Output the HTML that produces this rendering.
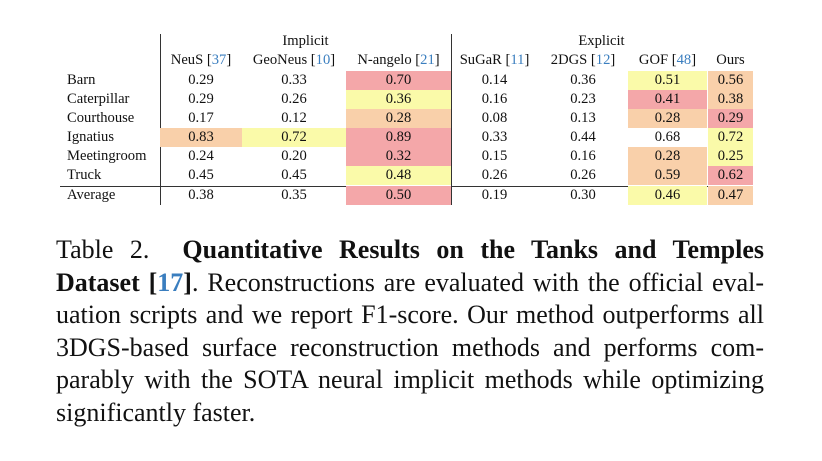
<!DOCTYPE html>
<html><head><meta charset="utf-8"><style>
body{margin:0;width:822px;height:461px;background:#fff;position:relative;overflow:hidden;font-family:"Liberation Serif",serif;color:#111}
.t{position:absolute;font-size:14.6px;line-height:19px;white-space:nowrap}
.c{position:absolute;height:19px;font-size:14.6px;line-height:19px;text-align:center}
.r{background:#f4a7a9}.o{background:#f9d0aa}.y{background:#fafaa9}
.ref{color:#3a7ebf}
.cap{position:absolute;left:56px;width:708px;font-size:26px;line-height:32.6px}
.ln{display:block;text-align:justify;text-align-last:justify;white-space:nowrap}
.ln.last{text-align-last:left}
</style></head><body>
<div>
<div style="position:absolute;left:160px;top:34px;width:1px;height:171px;background:#333"></div>
<div style="position:absolute;left:451px;top:34px;width:1px;height:171px;background:#333"></div>
<div style="position:absolute;left:60px;top:186px;width:692px;height:1px;background:#333"></div>
<div class="t" style="left:160px;width:291px;text-align:center;top:32px">Implicit</div>
<div class="t" style="left:451px;width:301px;text-align:center;top:32px">Explicit</div>
<div id="tbl"></div>
</div>
<div class="cap" style="top:234px">
<span class="ln">Table 2.&nbsp; <b>Quantitative Results on the Tanks and Temples</b></span>
<span class="ln"><b>Dataset [<span class="ref">17</span>]</b>. Reconstructions are evaluated with the official eval-</span>
<span class="ln">uation scripts and we report F1-score. Our method outperforms all</span>
<span class="ln">3DGS-based surface reconstruction methods and performs com-</span>
<span class="ln">parably with the SOTA neural implicit methods while optimizing</span>
<span class="ln last">significantly faster.</span>
</div>
<script>
const methods=["NeuS [37]","GeoNeus [10]","N-angelo [21]","SuGaR [11]","2DGS [12]","GOF [48]","Ours"];
const scenes=["Barn","Caterpillar","Courthouse","Ignatius","Meetingroom","Truck","Average"];
const values=[
["0.29","0.33","0.70","0.14","0.36","0.51","0.56"],
["0.29","0.26","0.36","0.16","0.23","0.41","0.38"],
["0.17","0.12","0.28","0.08","0.13","0.28","0.29"],
["0.83","0.72","0.89","0.33","0.44","0.68","0.72"],
["0.24","0.20","0.32","0.15","0.16","0.28","0.25"],
["0.45","0.45","0.48","0.26","0.26","0.59","0.62"],
["0.38","0.35","0.50","0.19","0.30","0.46","0.47"]];
const ranks=[
["","","r","","","y","o"],
["","","y","","","r","o"],
["","","o","","","o","r"],
["o","y","r","","","","y"],
["","","r","","","o","y"],
["","","y","","","o","r"],
["","","r","","","y","o"]];
const colL=[160,242,346,451,538,628,708],colR=[242,346,451,538,628,707,753];
const tbl=document.getElementById('tbl');
methods.forEach((m,j)=>{
 const d=document.createElement('div');d.className='t';
 
 
 d.style.left=colL[j]+'px';d.style.width=(colR[j]-colL[j])+'px';d.style.textAlign='center';d.style.top='51px';
 d.innerHTML=m.replace(/\[(\d+)\]/,'[<span class="ref">$1</span>]');tbl.appendChild(d);
});
scenes.forEach((s,i)=>{
 const top=71+i*19+(i==6?1:0);
 const l=document.createElement('div');l.className='t';
 
 
 l.style.left='67px';l.style.top=top+'px';l.textContent=s;tbl.appendChild(l);
 values[i].forEach((v,j)=>{
  const c=document.createElement('div');c.className='c '+ranks[i][j];
  
  
  c.style.left=colL[j]+'px';c.style.width=(colR[j]-colL[j])+'px';c.style.top=top+'px';
  c.textContent=v;tbl.appendChild(c);
 });
});
</script>
</body></html>
